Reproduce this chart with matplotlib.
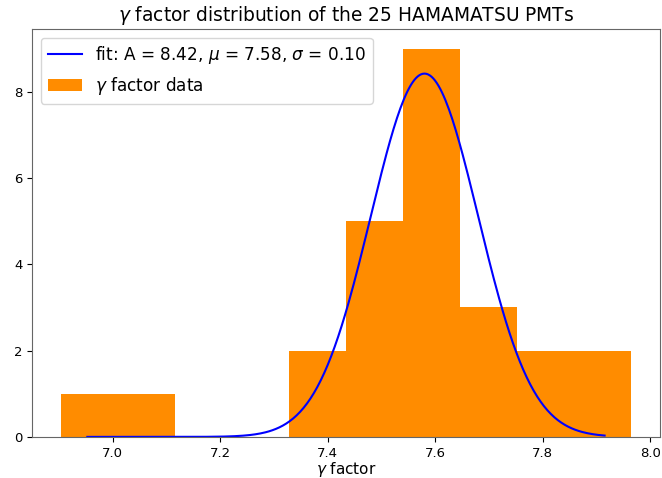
import numpy as np
import matplotlib
matplotlib.use('Agg')
import matplotlib.pyplot as plt

# histogram of gamma factors (bin edges and counts)
bin_edges = [6.904, 7.0101, 7.1162, 7.2223, 7.3284, 7.4345, 7.5406, 7.6467, 7.7528, 7.8589, 7.965]
counts = [1, 1, 0, 0, 2, 5, 9, 3, 2, 2]

# gaussian fit parameters
fit_A = 8.42
fit_mu = 7.58
fit_sigma = 0.10
fit_range = (6.953, 7.915)


def gauss(x, a, mu, sigma):
    return a * np.exp(-(x - mu) ** 2 / (2 * sigma ** 2))


fig = plt.figure(figsize=(6.62, 4.78), dpi=100)
ax = fig.add_axes([0.049, 0.086, 0.948, 0.853])

xs = np.linspace(fit_range[0], fit_range[1], 300)
ax.plot(xs, gauss(xs, fit_A, fit_mu, fit_sigma), color='blue', linewidth=1.5,
        label=r'fit: A = %.2f, $\mu$ = %.2f, $\sigma$ = %.2f' % (fit_A, fit_mu, fit_sigma))

centers = [(bin_edges[i] + bin_edges[i + 1]) / 2 for i in range(len(counts))]
ax.hist(centers, bins=bin_edges, weights=counts, color='darkorange',
        label=r'$\gamma$ factor data')

ax.set_xlabel(r'$\gamma$ factor', fontsize=11, labelpad=0)
ax.set_title(r'$\gamma$ factor distribution of the 25 HAMAMATSU PMTs', fontsize=13.4)
ax.tick_params(labelsize=9.5)
for s in ax.spines.values():
    s.set_color('0.4')

ax.legend(loc='upper left', fontsize=12.2)

fig.savefig('out.png', dpi=100)
